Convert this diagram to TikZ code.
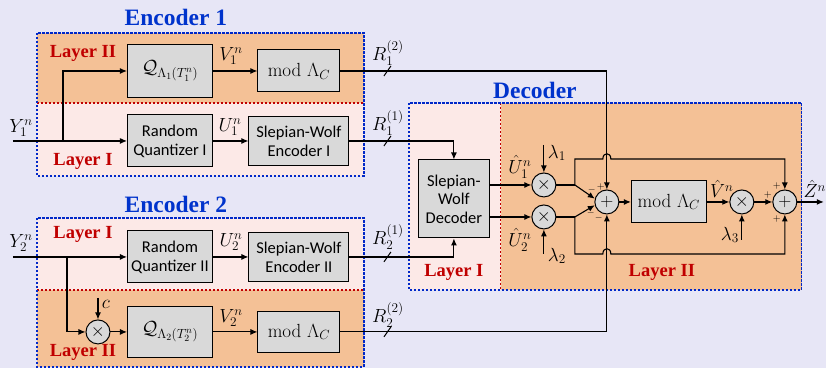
\RequirePackage{fix-cm}
\documentclass[tikz,border=0pt]{standalone}
\usepackage{amsmath,amssymb}
\usepackage[no-math]{fontspec}
\newfontfamily\boxfont{Carlito}
\newfontfamily\headfont{Liberation Serif}
\usepackage{xcolor}
\definecolor{bgcolor}{RGB}{231,230,246}
\definecolor{layeronecolor}{RGB}{252,233,231}
\definecolor{layertwocolor}{RGB}{244,193,150}
\definecolor{boxcolor}{RGB}{217,217,217}
\definecolor{framecolor}{RGB}{0,40,200}
\definecolor{titlecolor}{RGB}{0,51,204}
\definecolor{layercolor}{RGB}{192,0,0}
\usepackage{tikz}
\usetikzlibrary{arrows.meta}

\begin{document}
\begin{tikzpicture}[x=1pt, y=-1pt, line width=1.1pt, >={Latex[length=7pt,width=6pt]},
  blockbox/.style={draw=black, fill=boxcolor, line width=1pt, inner sep=0pt, align=center,
    font=\boxfont\fontsize{16.5}{19}\selectfont},
  mathbox/.style={blockbox, font=\fontsize{19}{21}\selectfont},
  opnode/.style={circle, draw=black, fill=boxcolor, line width=1pt, minimum size=24pt, inner sep=0pt,
    font=\fontsize{18}{18}\selectfont},
  mathlabel/.style={inner sep=0pt, font=\fontsize{19}{21}\selectfont},
  signlabel/.style={inner sep=0pt, font=\fontsize{10}{10}\selectfont},
  titletext/.style={text=titlecolor, font=\headfont\bfseries\fontsize{23.5}{26}\selectfont},
  layertext/.style={text=layercolor, font=\headfont\bfseries\fontsize{18.5}{20}\selectfont},
  encframe/.style={draw=framecolor, line width=1.3pt, dash pattern=on 2.5pt off 1.5pt},
  layerline/.style={draw=layercolor, line width=1.2pt, dash pattern=on 2.5pt off 1.5pt},
  rateslash/.style={line width=1pt}]

  % background and layers
  \fill[bgcolor] (0,0) rectangle (826,368);
  \fill[layertwocolor] (37,33) rectangle (364,103);
  \fill[layeronecolor] (37,103) rectangle (364,176);
  \fill[layeronecolor] (37,218) rectangle (364,290);
  \fill[layertwocolor] (37,290) rectangle (364,367);
  \fill[layeronecolor] (409,103) rectangle (501,290);
  \fill[layertwocolor] (501,103) rectangle (802,290);
  \draw[layerline] (37,103) -- (364,103);
  \draw[layerline] (37,290) -- (364,290);
  \draw[layerline] (501,103) -- (501,290);
  \draw[encframe] (37,33) rectangle (364,176);
  \draw[encframe] (37,218) rectangle (364,367);
  \draw[encframe] (409,103) rectangle (802,290);

  % titles
  \node[titletext] (enc1title) at (176,17) {Encoder 1};
  \node[titletext] (enc2title) at (176,205) {Encoder 2};
  \node[titletext] (dectitle) at (535,90) {Decoder};
  \node[layertext] (enc1two) at (83,53) {Layer II};
  \node[layertext] (enc1one) at (83,161) {Layer I};
  \node[layertext] (enc2one) at (83,234) {Layer I};
  \node[layertext] (enc2two) at (83,353) {Layer II};
  \node[layertext] (decone) at (454,272) {Layer I};
  \node[layertext] (dectwo) at (662,272) {Layer II};

  % encoder 1
  \node[mathbox, minimum width=85pt, minimum height=53pt] (q1) at (170,71) {$\mathcal{Q}_{\Lambda_1(T_1^n)}$};
  \node[mathbox, minimum width=82pt, minimum height=42pt] (mod1) at (299,71) {$\mathrm{mod}\ \Lambda_C$};
  \node[blockbox, minimum width=85pt, minimum height=52pt] (rq1) at (170,141) {Random\\Quantizer I};
  \node[blockbox, minimum width=100pt, minimum height=49pt] (swe1) at (299,141) {Slepian-Wolf\\Encoder I};
  \coordinate (y1in) at (13,141);
  \coordinate (y1br) at (63,141);
  \node[mathlabel] (y1lab) at (21,128) {$Y_1^n$};
  \draw (y1in) -- (y1br);
  \draw[->] (y1br) -- (rq1);
  \draw[->] (y1br) |- (q1);
  \draw[->] (q1) -- (mod1);
  \draw[->] (rq1) -- (swe1);
  \node[mathlabel] (v1lab) at (231,56) {$V_1^n$};
  \node[mathlabel] (u1lab) at (230,127) {$U_1^n$};

  % encoder 2
  \node[blockbox, minimum width=85pt, minimum height=52pt] (rq2) at (170,257) {Random\\Quantizer II};
  \node[blockbox, minimum width=100pt, minimum height=49pt] (swe2) at (299,257) {Slepian-Wolf\\Encoder II};
  \node[opnode] (multc) at (98,332) {$\times$};
  \node[mathbox, minimum width=85pt, minimum height=51pt] (q2) at (170,332) {$\mathcal{Q}_{\Lambda_2(T_2^n)}$};
  \node[mathbox, minimum width=82pt, minimum height=41pt] (mod2) at (299,332) {$\mathrm{mod}\ \Lambda_C$};
  \coordinate (y2in) at (13,257);
  \coordinate (y2br) at (67,257);
  \coordinate (cin) at (98,298);
  \node[mathlabel] (y2lab) at (21,243) {$Y_2^n$};
  \node[mathlabel] (clab) at (106,304) {$c$};
  \draw (y2in) -- (y2br);
  \draw[->] (y2br) -- (rq2);
  \draw[->] (y2br) |- (multc);
  \draw[->] (cin) -- (multc);
  \draw[->] (multc) -- (q2);
  \draw[->] (q2) -- (mod2);
  \draw[->] (rq2) -- (swe2);
  \node[mathlabel] (u2lab) at (231,242) {$U_2^n$};
  \node[mathlabel] (v2lab) at (231,318) {$V_2^n$};

  % decoder
  \node[blockbox, minimum width=71pt, minimum height=78pt, font=\boxfont\fontsize{16.5}{18.5}\selectfont] (swd) at (454,199) {Slepian-\\Wolf\\Decoder};
  \node[opnode] (mult1) at (544,185) {$\times$};
  \node[opnode] (mult2) at (544,217) {$\times$};
  \node[opnode] (sum1) at (607,202) {$+$};
  \node[mathbox, minimum width=75pt, minimum height=42pt] (modd) at (669,202) {$\mathrm{mod}\ \Lambda_C$};
  \node[opnode] (mult3) at (742,202) {$\times$};
  \node[opnode] (sum2) at (785,202) {$+$};
  \coordinate (u1br) at (575,185);
  \coordinate (u2br) at (575,217);
  \coordinate (lam1) at (544,145);
  \coordinate (lam2) at (544,254);
  \coordinate (lam3) at (742,240);
  \coordinate (zout) at (824,202);

  % rates
  \draw[->] (mod1) -| (sum1);
  \draw[->] (swe1) -| (swd);
  \draw[->] (swe2) -| (swd);
  \draw[->] (mod2) -| (sum1);
  \draw[rateslash] (384,76) -- (391,66);
  \draw[rateslash] (384,146) -- (391,136);
  \draw[rateslash] (384,262) -- (391,252);
  \draw[rateslash] (384,337) -- (391,327);
  \node[mathlabel] (r12lab) at (388,53) {$R_1^{(2)}$};
  \node[mathlabel] (r11lab) at (388,123) {$R_1^{(1)}$};
  \node[mathlabel] (r21lab) at (388,237) {$R_2^{(1)}$};
  \node[mathlabel] (r22lab) at (388,315) {$R_2^{(2)}$};

  \draw[->] (swd.east |- mult1) -- (mult1);
  \draw[->] (swd.east |- mult2) -- (mult2);
  \draw (mult1) -- (u1br);
  \draw (mult2) -- (u2br);
  \draw[->] (u1br) -- (sum1.165);
  \draw[->] (u2br) -- (sum1.195);
  \draw[->] (u1br) -- (575,159) -- (603,159) .. controls (603,152) and (611,152) .. (611,159) -- (785,159) -- (sum2);
  \draw[->] (u2br) -- (575,254) -- (603,254) .. controls (603,247) and (611,247) .. (611,254) -- (785,254) -- (sum2);
  \draw[->] (lam1) -- (mult1);
  \draw[->] (lam2) -- (mult2);
  \draw[->] (lam3) -- (mult3);
  \draw[->] (sum1) -- (modd);
  \draw[->] (modd) -- (mult3);
  \draw[->] (mult3) -- (sum2);
  \draw[->] (sum2) -- (zout);

  \node[mathlabel] (uh1lab) at (520,167) {$\hat{U}_1^n$};
  \node[mathlabel] (uh2lab) at (520,240) {$\hat{U}_2^n$};
  \node[mathlabel] (lam1lab) at (557,153) {$\lambda_1$};
  \node[mathlabel] (lam2lab) at (557,256) {$\lambda_2$};
  \node[mathlabel] (lam3lab) at (730,235) {$\lambda_3$};
  \node[mathlabel] (vhlab) at (722,189) {$\hat{V}^n$};
  \node[mathlabel] (zhlab) at (815,189) {$\hat{Z}^n$};

  % signs
  \node[signlabel] at (592,190) {$-$};
  \node[signlabel] at (601,187) {$+$};
  \node[signlabel] at (591,213) {$-$};
  \node[signlabel] at (599,218) {$-$};
  \node[signlabel] at (777,186) {$+$};
  \node[signlabel] at (768,195) {$+$};
  \node[signlabel] at (777,219) {$+$};
\end{tikzpicture}
\end{document}
